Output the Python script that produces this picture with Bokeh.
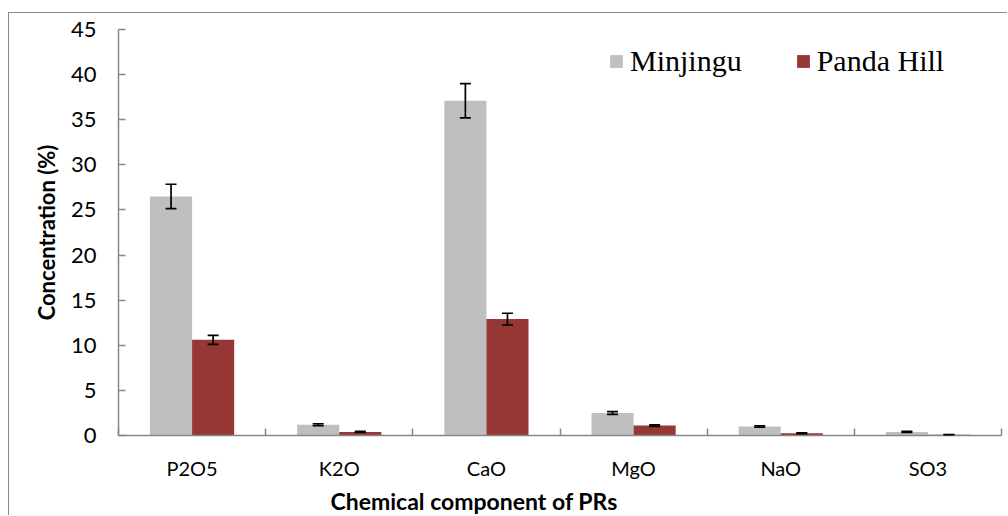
from bokeh.plotting import figure
from bokeh.models import (ColumnDataSource, Range1d, FixedTicker, Whisker, TeeHead,
                          Legend, LegendItem, Title)
from bokeh.embed import file_html
from bokeh.resources import INLINE

categories = ["P2O5", "K2O", "CaO", "MgO", "NaO", "SO3"]
minjingu = [26.5, 1.2, 37.1, 2.5, 1.0, 0.4]
minjingu_err = [1.35, 0.1, 1.9, 0.15, 0.08, 0.05]
panda_hill = [10.6, 0.4, 12.9, 1.1, 0.25, 0.08]
panda_hill_err = [0.5, 0.05, 0.65, 0.08, 0.05, 0.02]
y_ticks = [0, 5, 10, 15, 20, 25, 30, 35, 40, 45]
series_names = ["Minjingu", "Panda Hill"]
colors = ["#BFBFBF", "#953735"]

n = len(categories)
centers = [i + 0.5 for i in range(n)]
boundaries = [i for i in range(n + 1)]
bar_w = 0.286
x_m = [c - bar_w / 2 for c in centers]
x_p = [c + bar_w / 2 for c in centers]

src_m = ColumnDataSource(dict(x=x_m, top=minjingu,
                              upper=[v + e for v, e in zip(minjingu, minjingu_err)],
                              lower=[v - e for v, e in zip(minjingu, minjingu_err)]))
src_p = ColumnDataSource(dict(x=x_p, top=panda_hill,
                              upper=[v + e for v, e in zip(panda_hill, panda_hill_err)],
                              lower=[max(v - e, 0) for v, e in zip(panda_hill, panda_hill_err)]))

p = figure(width=999, height=503, x_range=Range1d(0, n), y_range=Range1d(0, 45),
           output_backend="svg", toolbar_location=None,
           min_border_left=109, min_border_right=7, min_border_top=16, min_border_bottom=81)
p.styles = {"border-left": "1px solid #8a8a8a", "border-top": "1px solid #8a8a8a",
            "margin-top": "12px", "margin-left": "8px"}
p.outline_line_color = None
p.xgrid.visible = False
p.ygrid.visible = False
p.background_fill_color = "white"
p.border_fill_color = "white"

r_m = p.vbar(x="x", top="top", width=bar_w, source=src_m, fill_color=colors[0], line_color=None)
r_p = p.vbar(x="x", top="top", width=bar_w, source=src_p, fill_color=colors[1], line_color=None)

for src in (src_m, src_p):
    w = Whisker(base="x", upper="upper", lower="lower", source=src, level="overlay",
                line_color="black", line_width=1.7,
                upper_head=TeeHead(size=11, line_color="black", line_width=1.7),
                lower_head=TeeHead(size=11, line_color="black", line_width=1.7))
    p.add_layout(w)

axis_color = "#878787"
tick_font = "Lato"

xa = p.xaxis[0]
xa.ticker = FixedTicker(ticks=centers, minor_ticks=boundaries)
xa.major_label_overrides = {c: lab for c, lab in zip(centers, categories)}
xa.major_tick_in = 0
xa.major_tick_out = 0
xa.minor_tick_in = 7
xa.minor_tick_out = 0
xa.minor_tick_line_color = axis_color
xa.minor_tick_line_width = 1.5
xa.axis_line_color = axis_color
xa.axis_line_width = 1.5
xa.major_label_text_font = tick_font
xa.major_label_text_font_size = "20px"
xa.major_label_text_color = "black"
xa.major_label_standoff = 20

ya = p.yaxis[0]
ya.ticker = FixedTicker(ticks=y_ticks)
ya.major_tick_in = 7
ya.major_tick_out = 0
ya.minor_tick_in = 0
ya.minor_tick_out = 0
ya.major_tick_line_color = axis_color
ya.major_tick_line_width = 1.5
ya.axis_line_color = axis_color
ya.axis_line_width = 1.5
ya.major_label_text_font = tick_font
ya.major_label_text_font_size = "22px"
ya.major_label_text_color = "black"
ya.major_label_standoff = 22
ya.axis_label = "Concentration (%)"
ya.axis_label_text_font = tick_font
ya.axis_label_text_font_size = "22px"
ya.axis_label_text_font_style = "bold"
ya.axis_label_text_color = "black"
ya.axis_label_standoff = 8

xtitle = Title(text="Chemical component of PRs", align="left", offset=212,
               text_font=tick_font, text_font_size="23px", text_font_style="bold",
               text_color="black", standoff=4)
p.add_layout(xtitle, "below")

legend = Legend(items=[LegendItem(label=series_names[0], renderers=[r_m]),
                       LegendItem(label=series_names[1], renderers=[r_p])],
                orientation="horizontal", location=(490, 357),
                padding=0, margin=0, spacing=53,
                glyph_width=16, glyph_height=16, label_standoff=6,
                label_text_font="Liberation Serif", label_text_font_size="30px",
                label_text_color="black",
                border_line_color=None, background_fill_alpha=0)
p.add_layout(legend)

open("out.html", "w").write(file_html(p, INLINE))
